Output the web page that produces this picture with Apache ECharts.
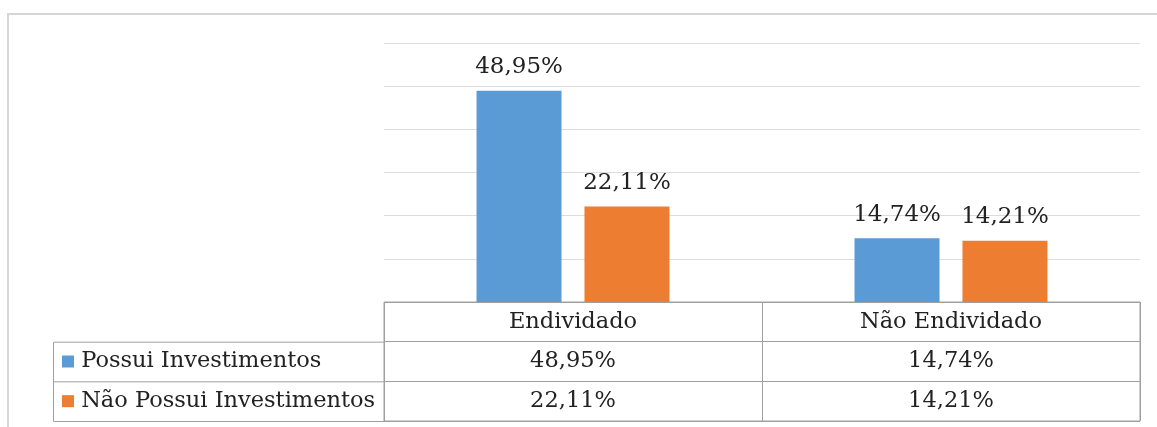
<!DOCTYPE html>
<html>
<head>
<meta charset="utf-8">
<script src="https://cdn.jsdelivr.net/npm/echarts@6/dist/echarts.min.js"></script>
<style>
    html, body { margin: 0; padding: 0; background: #fff; }
    #chart { width: 1157px; height: 427px; }
</style>
</head>
<body>
<div id="chart"></div>
<script>

const categories = ['Endividado', 'Não Endividado'];
const seriesNames = ['Possui Investimentos', 'Não Possui Investimentos'];
const possui = [48.95, 14.74];
const naoPossui = [22.11, 14.21];
const colors = ['#5B9BD5', '#ED7D31'];

const FONT = '"DejaVu Serif", serif';
const TEXT = '#222222';
const LINE = '#a0a0a0';

// plot + table geometry
const plotLeft = 384;
const plotRight = 17;
const plotTop = 43;
const plotBottom = 302;
const tableBottom = 421;
const legendLeft = 53;

const fmt = (v) => v.toFixed(2).replace('.', ',') + '%';

const chart = echarts.init(document.getElementById('chart'));

const rowH = (tableBottom - plotBottom) / 3;

// table cells: header row is the category names, then one row per series
const cells = [];
categories.forEach((c, i) => {
    cells.push([i, 0, c]);
    cells.push([i, 1, fmt(possui[i])]);
    cells.push([i, 2, fmt(naoPossui[i])]);
});

const barLabel = {
    show: true, position: 'top', distance: 12,
    fontSize: 23, fontFamily: FONT, color: TEXT,
    formatter: (p) => fmt(p.value),
};

chart.setOption({
    animation: false,
    textStyle: { fontFamily: FONT, color: TEXT },
    grid: [
        {
            left: plotLeft, right: plotRight, top: plotTop,
            height: plotBottom - plotTop,
        },
        {
            left: plotLeft, right: plotRight, top: plotBottom,
            height: tableBottom - plotBottom,
            show: true, borderColor: LINE, borderWidth: 1,
        },
    ],
    xAxis: [
        {
            type: 'category',
            data: categories,
            gridIndex: 0,
            axisLine: { show: false },
            axisTick: { show: false },
            axisLabel: { show: false },
        },
        {
            type: 'category',
            data: categories,
            gridIndex: 1,
            axisLine: { show: false },
            axisTick: { show: false },
            axisLabel: { show: false },
            splitLine: { show: true, lineStyle: { color: LINE, width: 1 } },
        },
    ],
    yAxis: [
        {
            type: 'value',
            gridIndex: 0,
            min: 0,
            max: 60,
            interval: 10,
            axisLabel: { show: false },
            axisLine: { show: false },
            axisTick: { show: false },
            splitLine: { lineStyle: { color: '#dcdcdc', width: 1 } },
        },
        {
            type: 'category',
            data: [''].concat(seriesNames),
            gridIndex: 1,
            inverse: true,
            axisLine: { show: false },
            axisTick: { show: false },
            splitLine: { show: true, lineStyle: { color: LINE, width: 1 } },
            axisLabel: {
                align: 'left',
                margin: plotLeft - 62,
                formatter: (v) => {
                    const i = seriesNames.indexOf(v);
                    if (i < 0) return '';
                    return `{s${i}|}{t| ${v}}`;
                },
                rich: {
                    s0: { width: 12, height: 12, backgroundColor: colors[0] },
                    s1: { width: 12, height: 12, backgroundColor: colors[1] },
                    t: { fontFamily: FONT, fontSize: 22.5, color: TEXT },
                },
            },
        },
    ],
    series: [
        {
            name: seriesNames[0],
            type: 'bar',
            data: possui,
            barWidth: 85,
            barGap: '27%',
            itemStyle: { color: colors[0] },
            label: barLabel,
        },
        {
            name: seriesNames[1],
            type: 'bar',
            data: naoPossui,
            barWidth: 85,
            barGap: '27%',
            itemStyle: { color: colors[1] },
            label: barLabel,
        },
        {
            type: 'scatter',
            xAxisIndex: 1,
            yAxisIndex: 1,
            data: cells,
            symbolSize: 1,
            itemStyle: { color: '#ffffff', opacity: 1 },
            silent: true,
            label: {
                show: true,
                position: 'inside',
                fontSize: 22.5, fontFamily: FONT, color: TEXT,
                textBorderWidth: 0,
                opacity: 1,
                formatter: (p) => p.data[2],
            },
        },
    ],
    graphic: [
        // outer frame of the picture
        {
            type: 'rect',
            shape: { x: 8, y: 14, width: 1180, height: 440 },
            style: { fill: 'none', stroke: '#d6d6d6', lineWidth: 2 },
            silent: true,
        },
        // legend column of the data table
        {
            type: 'rect',
            shape: {
                x: legendLeft + 0.5,
                y: plotBottom + rowH + 0.5,
                width: plotLeft - legendLeft,
                height: rowH * 2,
            },
            style: { fill: 'none', stroke: LINE, lineWidth: 1 },
            silent: true,
        },
        {
            type: 'line',
            shape: {
                x1: legendLeft, y1: plotBottom + rowH * 2 + 0.5,
                x2: plotLeft, y2: plotBottom + rowH * 2 + 0.5,
            },
            style: { stroke: LINE, lineWidth: 1 },
            silent: true,
        },
    ],
});

</script>
</body>
</html>
